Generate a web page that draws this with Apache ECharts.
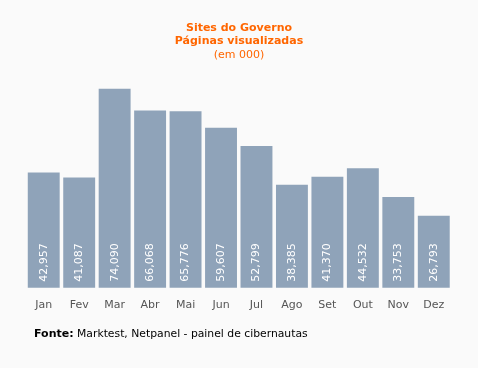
<!DOCTYPE html>
<html><head><meta charset="utf-8">
<script src="https://cdn.jsdelivr.net/npm/echarts@6/dist/echarts.min.js"></script>
<style>html,body{margin:0;padding:0;background:#fafafa;}#c{width:478px;height:368px;}</style>
</head><body><div id="c"></div>
<script>
var categories = ['Jan','Fev','Mar','Abr','Mai','Jun','Jul','Ago','Set','Out','Nov','Dez'];
var values = [42957,41087,74090,66068,65776,59607,52799,38385,41370,44532,33753,26793];
var titleLines = ['Sites do Governo','Páginas visualizadas','(em 000)'];
var sourceLabel = 'Fonte:';
var sourceText = ' Marktest, Netpanel - painel de cibernautas';

var chart = echarts.init(document.getElementById('c'));
chart.setOption({
  backgroundColor: '#fafafa',
  animation: false,
  title: {
    text: titleLines[0] + '\n' + titleLines[1] + '\n{n|' + titleLines[2] + '}',
    left: 'center', top: 16,
    textStyle: {
      color: '#ff6600', fontFamily: 'DejaVu Sans', fontSize: 11, fontWeight: 'bold', lineHeight: 13.5,
      rich: { n: { color: '#ff6600', fontFamily: 'DejaVu Sans', fontSize: 11, fontWeight: 'normal', lineHeight: 13.5 } }
    }
  },
  graphic: [{
    type: 'text', left: 34, top: 329,
    style: {
      text: '{b|' + sourceLabel + '}{r|' + sourceText + '}',
      rich: {
        b: { fontFamily: 'DejaVu Sans', fontSize: 11, fontWeight: 'bold', fill: '#000' },
        r: { fontFamily: 'DejaVu Sans', fontSize: 10.8, fill: '#000' }
      }
    }
  }],
  grid: { left: 26, right: 26.5, top: 73, bottom: 80.3 },
  xAxis: {
    type: 'category', data: categories,
    axisLine: { show: false }, axisTick: { show: false },
    axisLabel: { color: '#555', fontFamily: 'DejaVu Sans', fontSize: 11, margin: 12 }
  },
  yAxis: {
    type: 'value', min: 0, max: 80000, show: false,
    splitLine: { show: false }
  },
  series: [{
    type: 'bar', data: values, barCategoryGap: '10%',
    itemStyle: { color: '#8fa3b9' },
    label: {
      show: true, position: 'insideBottom', rotate: 90, distance: 6,
      align: 'left', verticalAlign: 'middle',
      color: '#fff', fontFamily: 'DejaVu Sans', fontSize: 11,
      formatter: function (p) { return p.value.toLocaleString('en-US'); }
    }
  }]
});
</script></body></html>
